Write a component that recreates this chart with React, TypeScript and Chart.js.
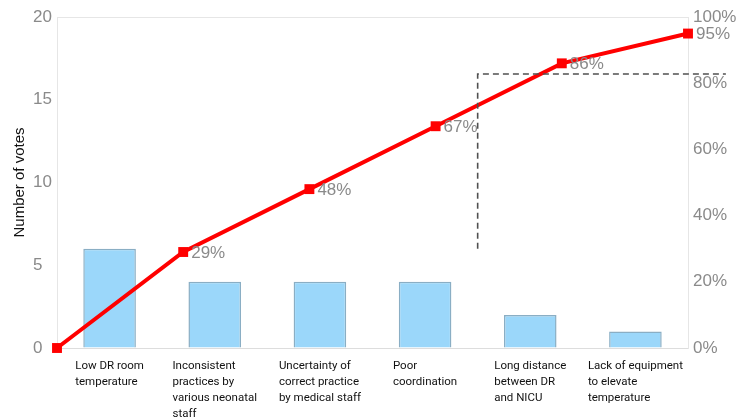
import React, { useEffect, useRef } from "react";
import { Chart, registerables } from "chart.js";

Chart.register(...registerables);

const categories: string[][] = [
  ["Low DR room", "temperature"],
  ["Inconsistent", "practices by", "various neonatal", "staff"],
  ["Uncertainty of", "correct practice", "by medical staff"],
  ["Poor", "coordination"],
  ["Long distance", "between DR", "and NICU"],
  ["Lack of equipment", "to elevate", "temperature"],
];
const votes = [6, 4, 4, 4, 2, 1];
const cumulativePct = [0, 29, 48, 67, 86, 95];
const cumulativePositions = ["0", "1", "2", "3", "4", "5"];
const votesAxis = { min: 0, max: 20, step: 5 };
const pctAxis = { min: 0, max: 100, step: 20 };
const yTitle = "Number of votes";
// Dashed cut-off guide (data units)
const cutoffCategory = 3.5;
const cutoffTopPct = 82.8;
const cutoffBottomPct = 30;
const cutoffRightIndex = 5.3;

const GREY = "#8a8a8a";
const TICK_FONT = { family: "'Liberation Sans', Arial, sans-serif", size: 17 };

const annotations = {
  id: "paretoExtras",
  afterDatasetsDraw(chart: any) {
    const { ctx, chartArea } = chart;
    const x = chart.scales.x;
    const x2 = chart.scales.x2;
    const y2 = chart.scales.y2;

    // dashed guide
    ctx.save();
    ctx.strokeStyle = "#505050";
    ctx.lineWidth = 1.6;
    ctx.setLineDash([6, 4]);
    const vx = x.getPixelForValue(cutoffCategory);
    const ty = y2.getPixelForValue(cutoffTopPct);
    ctx.beginPath();
    ctx.moveTo(vx, y2.getPixelForValue(cutoffBottomPct));
    ctx.lineTo(vx, ty);
    ctx.lineTo(x2.getPixelForValue(cutoffRightIndex), ty);
    ctx.stroke();
    ctx.restore();

    // percentage labels
    const meta = chart.getDatasetMeta(0);
    ctx.save();
    ctx.font = `${TICK_FONT.size}px ${TICK_FONT.family}`;
    ctx.fillStyle = GREY;
    ctx.textAlign = "left";
    ctx.textBaseline = "middle";
    meta.data.forEach((pt: any, i: number) => {
      if (i === 0) return;
      ctx.fillText(cumulativePct[i] + "%", pt.x + 8, pt.y + 1);
    });
    ctx.restore();

    // category labels
    ctx.save();
    ctx.font = "11.5px Roboto, 'Noto Sans', sans-serif";
    ctx.fillStyle = "#111";
    ctx.textAlign = "left";
    ctx.textBaseline = "middle";
    categories.forEach((lines, i) => {
      const cx = x.getPixelForValue(i);
      const w = Math.max(...lines.map((l) => ctx.measureText(l).width));
      const left = cx - w / 2;
      lines.forEach((l, k) => {
        ctx.fillText(l, left, chartArea.bottom + 18 + k * 16);
      });
    });
    ctx.restore();

    // y title
    ctx.save();
    ctx.font = "15px 'Liberation Sans', Arial, sans-serif";
    ctx.fillStyle = "#111";
    ctx.textAlign = "center";
    ctx.textBaseline = "middle";
    ctx.translate(20, (chartArea.top + chartArea.bottom) / 2);
    ctx.rotate(-Math.PI / 2);
    ctx.fillText(yTitle, 0, 0);
    ctx.restore();
  },
};

export default function App() {
  const ref = useRef<HTMLCanvasElement>(null);
  useEffect(() => {
    document.body.style.margin = "0";
    const chart = new Chart(ref.current!, {
      type: "bar",
      data: {
        labels: categories.map((c) => c.join(" ")),
        datasets: [
          {
            type: "line",
            data: cumulativePct,
            xAxisID: "x2",
            yAxisID: "y2",
            borderColor: "#ff0000",
            backgroundColor: "#ff0000",
            borderWidth: 4,
            pointStyle: "rect",
            pointRadius: 7,
            pointBorderWidth: 0,
            clip: false as any,
            order: 0,
          } as any,
          {
            type: "bar",
            data: votes,
            xAxisID: "x",
            yAxisID: "y",
            backgroundColor: "#9bd7fa",
            borderColor: "#8aaec4",
            borderWidth: 1.5,
            barPercentage: 0.5,
            categoryPercentage: 1,
            grouped: false,
            order: 1,
          } as any,
        ],
      },
      options: {
        responsive: false,
        animation: false,
        layout: { padding: { left: 33, top: 17, right: 0, bottom: 69 } },
        plugins: { legend: { display: false }, tooltip: { enabled: false } },
        scales: {
          x: {
            type: "category",
            offset: true,
            grid: { display: false, drawTicks: false },
            border: { display: true, color: "#dddddd" },
            ticks: { display: false },
            afterFit: (s: any) => {
              s.height = 0;
            },
          },
          x2: {
            type: "category",
            labels: cumulativePositions,
            offset: false,
            display: false,
          },
          y: {
            position: "left",
            min: votesAxis.min,
            max: votesAxis.max,
            ticks: {
              stepSize: votesAxis.step,
              crossAlign: "far",
              color: GREY,
              font: TICK_FONT,
              padding: 5,
            },
            grid: {
              drawTicks: false,
              color: (c: any) => (c.tick && c.tick.value === votesAxis.max ? "#e6e6e6" : "transparent"),
            },
            border: { display: true, color: "#e6e6e6" },
            afterFit: (s: any) => {
              s.width = 24;
            },
          },
          y2: {
            position: "right",
            min: pctAxis.min,
            max: pctAxis.max,
            ticks: {
              stepSize: pctAxis.step,
              color: GREY,
              font: TICK_FONT,
              padding: 5,
              callback: (v: any) => v + "%",
            },
            grid: { display: false, drawTicks: false },
            border: { display: true, color: "#e6e6e6" },
            afterFit: (s: any) => {
              s.width = 48;
            },
          },
        },
      },
      plugins: [annotations],
    });
    return () => chart.destroy();
  }, []);
  return (
    <div style={{ width: 736, height: 417 }}>
      <canvas ref={ref} width={736} height={417} />
    </div>
  );
}
